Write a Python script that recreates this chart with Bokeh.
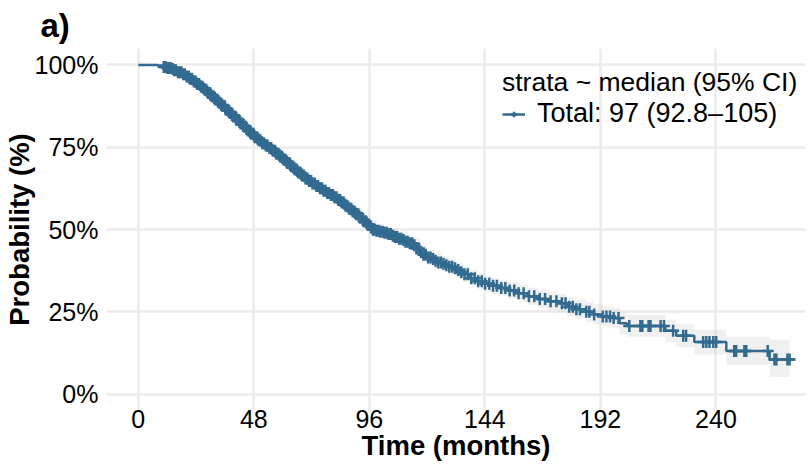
import numpy as np
from bokeh.plotting import figure
from bokeh.models import Range1d, FixedTicker, NumeralTickFormatter, Legend, LegendItem, ColumnDataSource
from bokeh.embed import file_html
from bokeh.resources import INLINE

# Kaplan-Meier estimate (months, survival probability)
times = [0, 6, 8, 10.5, 12, 13.5, 15, 16.5, 18, 19.5, 21, 22.5, 24, 25.5, 27, 28.5, 30, 31.5, 33, 34.5,
         36, 37.5, 39, 40.5, 42, 43.5, 45, 46.5, 48, 49.5, 51, 52.5, 54, 55.5, 57, 58.5, 60, 61.5, 63, 64.5,
         66, 67.5, 69, 70.5, 72, 73.5, 75, 76.5, 78, 79.5, 81, 82.5, 84, 85.5, 87, 88.5, 90, 91.5, 93, 94.5,
         96, 97.5, 99, 100.5, 102, 103.5, 105, 106.5, 108, 109.5, 111, 112.5, 114, 115.5, 117, 118.5, 120, 121.5, 123, 124.5,
         126, 127.5, 129, 130.5, 132, 133.5, 135, 138, 141, 144, 147, 150, 154, 158, 162, 166, 170, 174, 178, 182,
         186, 189, 193, 197, 200, 203, 219, 223.5, 231, 244.3, 262.3, 272.7]
surv = [1.000, 1.000, 0.998, 0.994, 0.991, 0.988, 0.984, 0.978, 0.972, 0.965, 0.958, 0.950, 0.942, 0.934, 0.925, 0.915, 0.905, 0.895, 0.885, 0.875,
        0.864, 0.854, 0.843, 0.833, 0.822, 0.812, 0.801, 0.791, 0.780, 0.771, 0.762, 0.755, 0.748, 0.739, 0.730, 0.721, 0.712, 0.702, 0.692, 0.682,
        0.673, 0.664, 0.655, 0.647, 0.640, 0.632, 0.625, 0.618, 0.611, 0.605, 0.598, 0.590, 0.582, 0.572, 0.563, 0.555, 0.546, 0.536, 0.525, 0.515,
        0.506, 0.499, 0.496, 0.493, 0.490, 0.486, 0.481, 0.477, 0.472, 0.468, 0.463, 0.458, 0.452, 0.442, 0.432, 0.423, 0.415, 0.410, 0.405, 0.400,
        0.396, 0.391, 0.387, 0.382, 0.377, 0.370, 0.364, 0.352, 0.343, 0.335, 0.329, 0.322, 0.315, 0.306, 0.297, 0.289, 0.282, 0.276, 0.265, 0.258,
        0.250, 0.242, 0.236, 0.231, 0.215, 0.207, 0.192, 0.177, 0.158, 0.131, 0.105, 0.105]

# 95% confidence band read from the grey ribbon
ci_times = [0, 6, 8, 10, 12, 15, 18, 21, 24, 27, 30, 33, 36, 39, 42, 45, 48, 51, 54, 57,
            60, 63, 66, 69, 72, 75, 78, 81, 84, 87, 90, 93, 96, 99, 102, 105, 108, 111, 114, 117,
            120, 123, 126, 129, 132, 135, 138, 141, 144, 147, 150, 154, 158, 162, 166, 170, 174, 178, 182, 186,
            189, 193, 197, 200, 203, 219, 223.5, 231, 244.3, 262.3, 270.6]
ci_lower = [1.000, 1.000, 0.996, 0.991, 0.986, 0.978, 0.965, 0.950, 0.933, 0.915, 0.894, 0.873, 0.852, 0.830, 0.808, 0.787, 0.765, 0.747, 0.732, 0.714,
            0.695, 0.675, 0.655, 0.637, 0.621, 0.606, 0.591, 0.578, 0.562, 0.542, 0.525, 0.504, 0.485, 0.475, 0.469, 0.460, 0.451, 0.442, 0.430, 0.410,
            0.393, 0.383, 0.373, 0.364, 0.354, 0.341, 0.328, 0.319, 0.311, 0.305, 0.297, 0.290, 0.280, 0.271, 0.262, 0.255, 0.248, 0.236, 0.229, 0.220,
            0.211, 0.205, 0.199, 0.182, 0.174, 0.158, 0.142, 0.120, 0.088, 0.052, 0.052]
ci_upper = [1.000, 1.000, 1.000, 0.999, 0.996, 0.990, 0.979, 0.966, 0.951, 0.935, 0.916, 0.897, 0.877, 0.856, 0.836, 0.815, 0.795, 0.777, 0.764, 0.746,
            0.729, 0.709, 0.691, 0.673, 0.659, 0.644, 0.631, 0.618, 0.602, 0.584, 0.567, 0.546, 0.527, 0.517, 0.511, 0.502, 0.493, 0.484, 0.474, 0.454,
            0.437, 0.427, 0.419, 0.410, 0.400, 0.387, 0.376, 0.367, 0.359, 0.353, 0.347, 0.340, 0.332, 0.323, 0.316, 0.309, 0.304, 0.294, 0.287, 0.280,
            0.273, 0.267, 0.263, 0.248, 0.240, 0.226, 0.212, 0.196, 0.174, 0.165, 0.165]

# censoring times (months) read from the "+" marks
censor_times = [10.6, 11.3, 12.1, 12.8, 13.4, 14.3, 15.0, 15.6, 16.5, 17.2, 17.9, 18.7, 19.3, 20.1, 20.9, 21.4, 22.3, 23.1, 23.8, 24.4,
                25.3, 26.1, 26.7, 27.6, 28.2, 29.0, 29.8, 30.5, 31.3, 31.9, 32.8, 33.5, 34.1, 35.0, 35.8, 36.4, 37.2, 38.1, 38.7, 39.5,
                40.3, 40.9, 41.8, 42.5, 43.2, 44.0, 44.7, 45.5, 46.2, 46.9, 47.8, 48.4, 49.3, 50.0, 50.7, 51.5, 52.2, 53.0, 53.7, 54.5,
                55.2, 55.9, 56.8, 57.4, 58.2, 59.0, 59.7, 60.5, 61.2, 61.9, 62.8, 63.5, 64.1, 65.0, 65.8, 66.4, 67.3, 68.0, 68.7, 69.5,
                70.2, 71.0, 71.8, 72.4, 73.3, 74.0, 74.7, 75.5, 76.3, 77.0, 77.8, 78.5, 79.2, 80.0, 80.9, 81.5, 82.3, 83.1, 83.8, 84.6,
                85.3, 86.1, 86.8, 87.6, 88.4, 89.1, 89.8, 90.6, 91.4, 92.1, 92.9, 93.6, 94.4, 95.2, 95.9, 96.7, 97.5, 98.2, 99.0, 99.8,
                100.6, 101.5, 102.3, 103.2, 104.0, 104.9, 105.8, 106.6, 107.5, 108.4, 109.3, 110.2, 111.0, 111.9, 112.8, 113.8, 114.7, 115.6, 116.6, 117.5,
                118.5, 119.4, 120.4, 121.4, 122.5, 123.5, 124.6, 125.7, 126.8, 128.0, 129.2, 130.4, 131.6, 132.9, 134.2, 135.5, 136.9, 138.3, 139.8, 141.2,
                142.7, 144.1, 145.8, 147.4, 149.0, 150.8, 152.5, 154.3, 156.2, 158.0, 160.1, 162.3, 164.5, 166.8, 169.0, 171.3, 173.7, 176, 177.5, 179,
                180.5, 182, 183.5, 186.1, 187.4, 189.4, 193, 194.5, 196, 197.5, 199.5, 204, 208.6, 209.4, 212, 212.8, 217, 218.4, 222.2, 226.4,
                227.6, 234.7, 236, 237.3, 238.9, 240.1, 247.6, 248.4, 251.8, 252.6, 261.5, 264.3, 265.1, 269.7, 270.6]

x_ticks = [0, 48, 96, 144, 192, 240]
y_ticks = [0, 0.25, 0.5, 0.75, 1.0]
legend_title = "strata ~ median (95% CI)"
legend_label = "Total: 97 (92.8\u2013105)"
panel_title = "a)"
x_title = "Time (months)"
y_title = "Probability (%)"

LINE = "#336a90"
FONT = "Liberation Sans"

t = np.array(times, dtype=float)
s = np.array(surv, dtype=float)
c = np.array(censor_times, dtype=float)
idx = np.searchsorted(t, c, side="right") - 1
c_y = s[idx]

p = figure(width=812, height=468, output_backend="svg", toolbar_location=None,
           x_range=Range1d(-13.2, 277.2), y_range=Range1d(-0.05, 1.05),
           min_border_left=106, min_border_right=7, min_border_top=48, min_border_bottom=58)
p.outline_line_color = None
p.background_fill_color = "white"
p.border_fill_color = "white"

p.title.text = panel_title
p.title.text_font = FONT
p.title.text_font_size = "33px"
p.title.text_font_style = "bold"
p.title.text_color = "black"
p.title.align = "left"
p.title.offset = -66
p.title.standoff = 9

for ax in (p.xaxis[0], p.yaxis[0]):
    ax.axis_line_color = None
    ax.major_tick_line_color = None
    ax.minor_tick_line_color = None
    ax.major_tick_out = 0
    ax.major_tick_in = 0
    ax.minor_tick_out = 0
    ax.minor_tick_in = 0
    ax.major_label_text_font = FONT
    ax.major_label_text_font_size = "25px"
    ax.major_label_text_color = "black"
    ax.axis_label_text_font = FONT
    ax.axis_label_text_font_size = "27.5px"
    ax.axis_label_text_font_style = "bold"
    ax.axis_label_text_color = "black"

p.xaxis.ticker = FixedTicker(ticks=x_ticks)
p.yaxis.ticker = FixedTicker(ticks=y_ticks)
p.yaxis.formatter = NumeralTickFormatter(format="0%")
p.xaxis.axis_label = x_title
p.yaxis.axis_label = y_title
p.xaxis.major_label_standoff = -1
p.xaxis.axis_label_standoff = -1
p.yaxis.major_label_standoff = 8
p.yaxis.axis_label_standoff = -3

p.xgrid.grid_line_color = "#ebebeb"
p.ygrid.grid_line_color = "#ebebeb"
p.xgrid.grid_line_width = 2.5
p.ygrid.grid_line_width = 2.5

ci_src = ColumnDataSource(dict(t=np.array(ci_times), lo=np.array(ci_lower), hi=np.array(ci_upper)))
p.varea_step(x="t", y1="lo", y2="hi", source=ci_src, step_mode="after",
             fill_color="#c8c8c8", fill_alpha=0.28)
src = ColumnDataSource(dict(t=t, s=s))
ln = p.step(x="t", y="s", source=src, mode="after", line_color=LINE, line_width=2.5)
cs = p.scatter(x=c, y=c_y, marker="cross", size=12, line_color=LINE, line_width=2.5)

legend = Legend(items=[LegendItem(label=legend_label, renderers=[ln, cs])],
                location=(396, 281), title=legend_title,
                title_text_font=FONT, title_text_font_size="26.5px", title_text_font_style="normal",
                title_text_color="black", title_standoff=-17,
                label_text_font=FONT, label_text_font_size="27px", label_text_color="black",
                background_fill_alpha=0, border_line_color=None,
                padding=0, margin=0, spacing=0, glyph_width=23, glyph_height=14, label_standoff=12)
p.add_layout(legend)

open("out.html", "w").write(file_html(p, INLINE))
